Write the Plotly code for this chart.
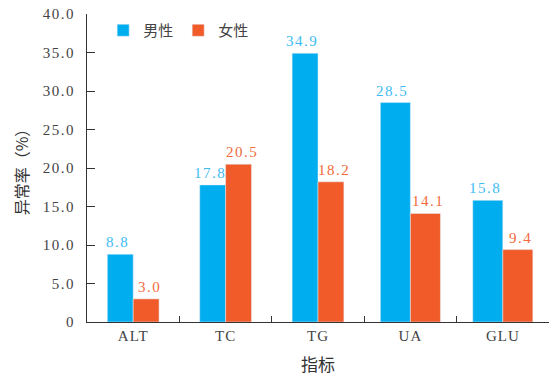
import plotly.graph_objects as go

categories = ["ALT", "TC", "TG", "UA", "GLU"]
male = [8.8, 17.8, 34.9, 28.5, 15.8]
female = [3.0, 20.5, 18.2, 14.1, 9.4]
ytick_vals = [0, 5, 10, 15, 20, 25, 30, 35, 40]
ytick_text = ["0", "5.0", "10.0", "15.0", "20.0", "25.0", "30.0", "35.0", "40.0"]

# style: bar widths (fraction of a category) as drawn in the reference
bar_w = [0.28, 0.28, 0.28, 0.325, 0.325]

serif = "Liberation Serif, Times New Roman, serif"
cjk = "Noto Sans CJK SC, sans-serif"
blue, red = "#00AEEF", "#F15A29"
blue_txt, red_txt = "#3DBBF3", "#F26A3C"


def spaced(s, px=1.5):
    return f'<span style="letter-spacing:{px}px">{s}</span>'


fig = go.Figure()
fig.add_trace(go.Bar(
    x=categories, y=male, name="男性", marker_color=blue,
    width=bar_w, offset=[-w for w in bar_w],
))
fig.add_trace(go.Bar(
    x=categories, y=female, name="女性", marker_color=red,
    width=bar_w, offset=[0] * len(bar_w),
))

for i, cat in enumerate(categories):
    fig.add_annotation(x=i - bar_w[i] / 2, y=male[i], text=spaced(f"{male[i]:.1f}"),
                       showarrow=False, yanchor="bottom", xanchor="center",
                       xshift=-3, yshift=2,
                       font=dict(family=serif, size=15, color=blue_txt))
    fig.add_annotation(x=i + bar_w[i] / 2, y=female[i], text=spaced(f"{female[i]:.1f}"),
                       showarrow=False, yanchor="bottom", xanchor="center",
                       xshift=3, yshift=2,
                       font=dict(family=serif, size=15, color=red_txt))

fig.update_layout(
    width=550, height=379,
    margin=dict(l=87, r=1, t=14, b=57),
    barmode="overlay",
    plot_bgcolor="white", paper_bgcolor="white",
    legend=dict(orientation="h", x=0.035, y=1.0, xanchor="left", yanchor="top",
                font=dict(family=cjk, size=15, color="#444"), bgcolor="rgba(0,0,0,0)",
                itemwidth=30),
    xaxis=dict(
        showline=True, linecolor="#333", linewidth=1.2,
        ticks="inside", tickson="boundaries", ticklen=6, tickcolor="#333",
        tickfont=dict(family=serif, size=15, color="#444"),
        ticktext=[spaced(c, 1) for c in categories], tickvals=categories,
        title=dict(text="指标", font=dict(family=cjk, size=17, color="#333"), standoff=16),
    ),
    yaxis=dict(
        range=[0, 40], showline=True, linecolor="#333", linewidth=1.2,
        ticks="inside", ticklen=8, tickcolor="#333", showgrid=False, zeroline=False,
        tickvals=ytick_vals, ticktext=[spaced(t, 1.5) for t in ytick_text],
        ticklabelstandoff=8,
        tickfont=dict(family=serif, size=15, color="#444"),
        title=dict(text="异常率（%）", font=dict(family=cjk, size=16, color="#333"), standoff=10),
    ),
)

fig.write_html("out.html")
